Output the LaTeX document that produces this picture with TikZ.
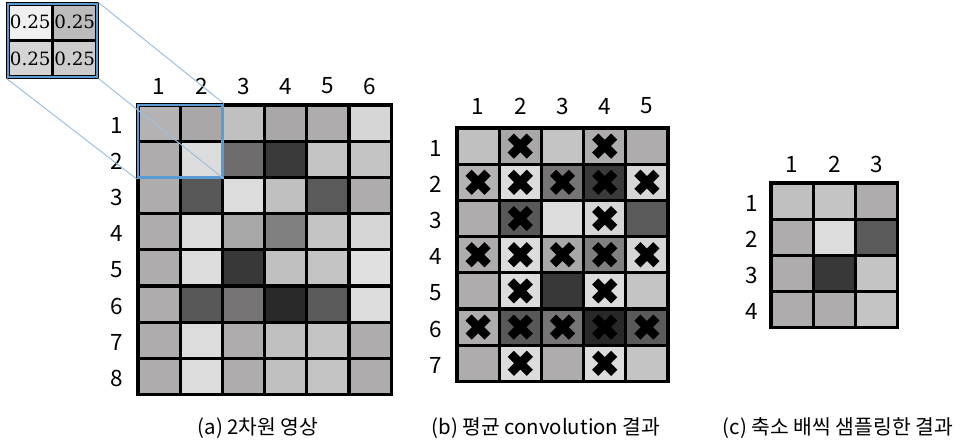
\documentclass[tikz,border=0pt]{standalone}
\usepackage{fontspec}
\setmainfont{Noto Sans CJK KR}
\newfontfamily\valfont{DejaVu Serif}
\usetikzlibrary{positioning, fit}

% grey levels of the image cells
\definecolor{gA}{HTML}{AEACAC}
\definecolor{gB}{HTML}{DCDCDC}
\definecolor{gC}{HTML}{C0C0C0}
\definecolor{gD}{HTML}{C4C4C4}
\definecolor{gE}{HTML}{585858}
\definecolor{gF}{HTML}{5A5A5A}
\definecolor{gG}{HTML}{383838}
\definecolor{gH}{HTML}{282828}
\definecolor{gI}{HTML}{767474}
\definecolor{gJ}{HTML}{808080}
\definecolor{gK}{HTML}{A8A8A8}
\definecolor{gL}{HTML}{3A3A3A}
\definecolor{gM}{HTML}{6E6C6C}
\definecolor{gN}{HTML}{D6D6D6}
\definecolor{gO}{HTML}{A9A7A7}
\definecolor{gP}{HTML}{B4B2B2}
\definecolor{gQ}{HTML}{E0E0E0}
\definecolor{boxblue}{HTML}{5B9BD5}
\definecolor{lineblue}{HTML}{9DBFE3}

\begin{document}
\begin{tikzpicture}[
    x=0.025cm, y=-0.025cm,
    cell/.style={
      rectangle, draw=black, line width=2.3pt, inner sep=0pt, outer sep=0pt,
      minimum width=1.055cm, minimum height=0.905cm,
    },
    zcell/.style={
      rectangle, draw=black, line width=2.6pt, inner sep=0pt, outer sep=0pt,
      minimum width=1.1125cm, minimum height=0.9125cm,
      font=\valfont\fontsize{13}{15}\selectfont,
    },
    zoombox/.style={draw=boxblue, line width=2.1pt, inner sep=0pt},
    zoomline/.style={draw=lineblue, line width=0.7pt},
    xmark/.style={line width=6.2pt, black},
    idx/.style={font=\fontsize{16}{18}\selectfont, inner sep=0pt},
    caption/.style={font=\fontsize{14.5}{17}\selectfont, inner sep=0pt},
]
\useasboundingbox (0,0) rectangle (977,440);

% (a) 8x6 image
\foreach \shades [count=\r] in {
    {gP,gO,gC,gO,gA,gN},{gA,gB,gM,gL,gD,gD},{gA,gE,gB,gC,gF,gA},{gA,gB,gK,gJ,gD,gN},
    {gA,gB,gG,gC,gD,gQ},{gA,gE,gI,gH,gF,gB},{gA,gB,gA,gC,gD,gA},{gA,gB,gA,gC,gD,gA}}
  \foreach \shade [count=\c] in \shades
    \node[cell, fill=\shade] (a-\r-\c) at ({138+42.2*(\c-0.5)}, {105+36.2*(\r-0.5)}) {};
\foreach \c in {1,...,6}
  \node[idx] (acol\c) at ({138+42.2*(\c-0.5)}, 86) {\c};
\foreach \r in {1,...,8}
  \node[idx] (arow\r) at (117, {107+36.2*(\r-0.5)}) {\r};

% (b) 7x5 average convolution
\foreach \shades [count=\r] in {
    {gC,gO,gD,gA,gA},{gP,gB,gI,gL,gN},{gA,gE,gB,gN,gF},{gA,gB,gK,gJ,gN},
    {gA,gB,gG,gB,gD},{gA,gE,gI,gH,gF},{gA,gB,gA,gB,gD}}
  \foreach \shade [count=\c] in \shades
    \node[cell, fill=\shade] (b-\r-\c) at ({457+42.2*(\c-0.5)}, {128+36.2*(\r-0.5)}) {};
\foreach \c in {1,...,5}
  \node[idx] (bcol\c) at ({457+42.2*(\c-0.5)}, 106) {\c};
\foreach \r in {1,...,7}
  \node[idx] (brow\r) at (436, {130+36.2*(\r-0.5)}) {\r};

% dropped samples
\foreach \r/\cols in {1/{2,4},2/{1,2,3,4,5},3/{2,4},4/{1,2,3,4,5},5/{2,4},6/{1,2,3,4,5},7/{2,4}}
  \foreach \c in \cols
    \draw[xmark] ([shift={(-9.5,-9.5)}]b-\r-\c.center) -- ([shift={(9.5,9.5)}]b-\r-\c.center)
                 ([shift={(-9.5,9.5)}]b-\r-\c.center) -- ([shift={(9.5,-9.5)}]b-\r-\c.center);

% (c) 4x3 subsampled
\foreach \shades [count=\r] in {{gC,gD,gA},{gA,gB,gF},{gA,gG,gD},{gA,gA,gD}}
  \foreach \shade [count=\c] in \shades
    \node[cell, fill=\shade] (c-\r-\c) at ({771+42.2*(\c-0.5)}, {183+36.2*(\r-0.5)}) {};
\foreach \c in {1,...,3}
  \node[idx] (ccol\c) at ({771+42.2*(\c-0.5)}, 164) {\c};
\foreach \r in {1,...,4}
  \node[idx] (crow\r) at (752, {185+36.2*(\r-0.5)}) {\r};

% 2x2 kernel window and its magnified view
\node[zoombox, fit=(a-1-1)(a-2-2)] (win) {};
\node[zcell, fill={rgb,255:red,240;green,240;blue,240}] (z-1-1) at (30.25, 22.25) {0.25};
\node[zcell, fill={rgb,255:red,188;green,188;blue,188}] (z-1-2) at (74.75, 22.25) {0.25};
\node[zcell, fill={rgb,255:red,212;green,212;blue,212}] (z-2-1) at (30.25, 58.75) {0.25};
\node[zcell, fill={rgb,255:red,204;green,204;blue,204}] (z-2-2) at (74.75, 58.75) {0.25};
\node[zoombox, fit=(z-1-1)(z-2-2)] (inset) {};
\draw[zoomline] (inset.north east) -- (win.north east);
\draw[zoomline] (inset.south west) -- (win.south west);
\draw[zoomline] (inset.south east) -- (win.south east);

% captions
\node[caption] (capa) at (258, 428) {(a) 2차원 영상};
\node[caption] (capb) at (546, 428) {(b) 평균 convolution 결과};
\node[caption] (capc) at (838, 428) {(c) 축소 배씩 샘플링한 결과};
\end{tikzpicture}
\end{document}
